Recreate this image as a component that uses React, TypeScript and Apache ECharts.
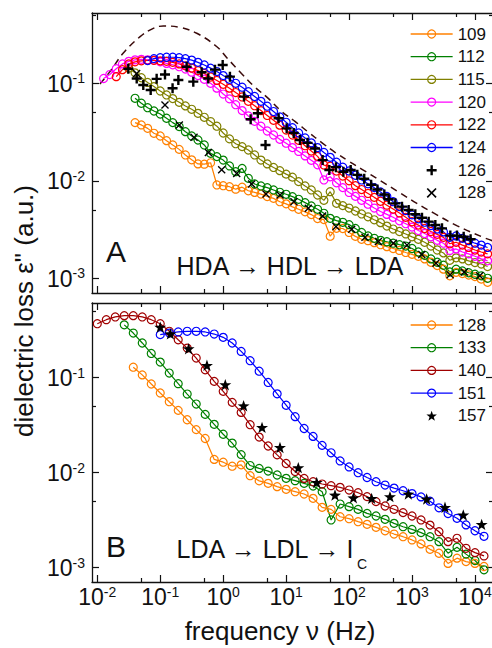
import React, { useEffect, useRef } from 'react';
import * as echarts from 'echarts';

// ---------- data (frequency in Hz, dielectric loss in a.u.) ----------
// panel A: common frequency grid, each series ends at the last frequency
const FREQ_A = [0.0126, 0.0158, 0.02, 0.0251, 0.0316, 0.0398, 0.0501, 0.0631, 0.0794,
  0.1, 0.126, 0.158, 0.2, 0.251, 0.316, 0.398, 0.501, 0.631, 0.794,
  1, 1.26, 1.58, 2, 2.51, 3.16, 3.98, 5.01, 6.31, 7.94,
  10, 12.6, 15.8, 20, 25.1, 31.6, 39.8, 50.1, 63.1, 79.4,
  100, 126, 158, 200, 251, 316, 398, 501, 631, 794,
  1000, 1259, 1585, 1995, 2512, 3162, 3981, 5012, 6310, 7943,
  10000, 12589, 15849];

const A109 = [0.0395, 0.0374, 0.0345, 0.0307, 0.0288, 0.0258, 0.0233, 0.021, 0.0184, 0.0164, 0.0149, 0.0148, 0.0153, 0.00906,
  0.0089, 0.0087, 0.0082, 0.0086, 0.0079, 0.0076, 0.0073, 0.0069, 0.0066, 0.0061,
  0.0058, 0.0054, 0.0051, 0.0048, 0.0045, 0.0041, 0.0040, 0.0027, 0.00326, 0.00324,
  0.00295, 0.00269, 0.00251, 0.00243, 0.00232, 0.00221, 0.00211, 0.00202, 0.00193, 0.00184,
  0.00176, 0.00168, 0.00158, 0.00146, 0.00135, 0.00124, 0.00106, 0.00115, 0.00112, 0.00108,
  0.00104, 0.00098, 0.00091];
const A112 = [0.0702, 0.0624, 0.0562, 0.052, 0.0484, 0.0438, 0.0395, 0.036, 0.0319, 0.0288, 0.0262, 0.0233, 0.0191, 0.0177,
  0.0163, 0.0142, 0.0124, 0.0134, 0.0106, 0.00927, 0.00885, 0.0085, 0.00805, 0.00762,
  0.00727, 0.00688, 0.00646, 0.00597, 0.00552, 0.0051, 0.00464, 0.00412, 0.0039, 0.00375,
  0.00355, 0.00324, 0.00295, 0.00272, 0.00257, 0.00245, 0.00237, 0.00229, 0.00221, 0.00214,
  0.00202, 0.00186, 0.00172, 0.00158, 0.00146, 0.00136, 0.00116, 0.00124, 0.00119, 0.00114,
  0.0011, 0.00106, 0.001];
const A115 = [0.143, 0.128, 0.114, 0.102, 0.0925, 0.0834, 0.0759, 0.0697, 0.0638, 0.0586, 0.0541, 0.0492, 0.0448, 0.0405, 0.0363,
  0.0309, 0.0269, 0.024, 0.0224, 0.0207, 0.0184, 0.0163, 0.0149, 0.0137, 0.0127,
  0.0117, 0.0109, 0.0098, 0.00885, 0.00805, 0.00715, 0.0063, 0.00773, 0.00587, 0.00556,
  0.00525, 0.0049, 0.00457, 0.00427, 0.00398, 0.00372, 0.00343, 0.0032, 0.00302, 0.00285,
  0.00266, 0.00251, 0.00234, 0.00214, 0.00195, 0.00182, 0.00153, 0.00162, 0.00158, 0.00151,
  0.00145, 0.0014, 0.00132];
const A120 = [0.112, 0.123, 0.141, 0.158, 0.168, 0.174, 0.176, 0.174, 0.172, 0.166, 0.16, 0.155, 0.148, 0.14, 0.13, 0.12, 0.11, 0.1, 0.0891,
  0.0776, 0.0692, 0.0603, 0.0525, 0.0462, 0.0407, 0.0363, 0.0324, 0.0295, 0.0266,
  0.0243, 0.0219, 0.02, 0.018, 0.0162, 0.0146, 0.0102, 0.011, 0.00955, 0.00851,
  0.00759, 0.00692, 0.00631, 0.00575, 0.00525, 0.00484, 0.00452, 0.00422, 0.00389, 0.00363,
  0.00335, 0.00309, 0.00288, 0.00266, 0.00245, 0.00229, 0.00193, 0.002, 0.00186, 0.00178,
  0.00168, 0.00158, 0.00151];
const A122 = [0.117, 0.138, 0.158, 0.166, 0.17, 0.172, 0.172, 0.17, 0.168, 0.164, 0.158, 0.151, 0.143, 0.135, 0.126, 0.116, 0.107,
  0.0977, 0.0891, 0.0804, 0.0724, 0.0653, 0.0589, 0.0525, 0.0468, 0.0417, 0.0372,
  0.0331, 0.0295, 0.026, 0.0229, 0.0202, 0.0178, 0.0145, 0.0141, 0.0126, 0.0112,
  0.01, 0.00891, 0.00813, 0.00741, 0.00676, 0.00617, 0.00562, 0.00513, 0.00468, 0.00422,
  0.0038, 0.00351, 0.00324, 0.00302, 0.00282, 0.00263, 0.00226, 0.00234, 0.00219, 0.00207,
  0.00195, 0.00186, 0.00178];
const A124 = [0.171, 0.179, 0.183, 0.185, 0.185, 0.183, 0.179, 0.173, 0.164, 0.154, 0.143, 0.132,
  0.12, 0.11, 0.1, 0.0912, 0.082, 0.0733, 0.0653, 0.0582, 0.0513, 0.0452,
  0.0398, 0.0351, 0.0309, 0.0275, 0.0245, 0.0219, 0.0195, 0.0174, 0.0155, 0.0138,
  0.0126, 0.0114, 0.0102, 0.00933, 0.00851, 0.00767, 0.00692, 0.0061, 0.00543, 0.00495,
  0.00447, 0.00407, 0.00376, 0.00347, 0.0032, 0.00299, 0.00263, 0.00272, 0.00257, 0.00243,
  0.00229, 0.00219, 0.00207];

const A126_FREQ = [0.0311, 0.0423, 0.0538, 0.0705, 0.0877, 0.119, 0.157, 0.194, 0.263, 0.335, 0.455, 0.579, 0.741, 0.982,
  1.28, 2.14, 2.73, 3.55, 4.7, 7.59, 10.2, 13.2, 16.6, 21.9, 28.8, 38, 48.5, 61.9, 81.1,
  106, 135, 174, 224, 282, 363, 427, 542, 692, 883, 1127, 1439, 1837, 2344, 2992, 4055, 5176, 6607, 8511];
const A126 = [0.141, 0.112, 0.0962, 0.0853, 0.111, 0.123, 0.0889, 0.108, 0.148, 0.104, 0.13, 0.112, 0.138, 0.154,
  0.117, 0.073, 0.0427, 0.0492, 0.0233, 0.0438, 0.0345, 0.0309, 0.0262, 0.0245, 0.0214, 0.0163, 0.0129, 0.0138, 0.0124,
  0.0129, 0.0115, 0.0105, 0.00912, 0.00813, 0.00724, 0.00646, 0.00587, 0.00543, 0.00501, 0.00453, 0.00418, 0.00381,
  0.00352, 0.00325, 0.00274, 0.00274, 0.00267, 0.00251];

const A128_FREQ = [0.0422, 0.119, 0.201, 0.344, 0.582, 0.946, 1.64, 2.83, 4.79, 8.0, 13.3, 22.5, 38.0, 61.9,
  110, 179, 292, 505, 832, 1429, 2399, 4027, 6761, 11885];
const A128 = [0.126, 0.06, 0.0374, 0.0279, 0.0195, 0.013, 0.0119, 0.00927, 0.00733, 0.00714, 0.00611, 0.00522, 0.00436, 0.00339,
  0.00318, 0.00263, 0.00238, 0.00229, 0.00219, 0.00175, 0.00143, 0.00109, 0.00116, 0.00106];

const FIT_FREQ = [0.011, 0.0158, 0.0257, 0.0479, 0.0776, 0.112, 0.204, 0.38, 0.794, 1.15, 1.95, 3.2, 5.2, 8.5,
  13.8, 22.4, 37.2, 60.3, 100, 158, 316, 631, 1175, 2188, 5129, 13490, 19950];
const FIT = [0.0984, 0.131, 0.203, 0.301, 0.366, 0.387, 0.375, 0.326, 0.237, 0.182, 0.126, 0.0912, 0.07, 0.0513,
  0.0407, 0.0316, 0.0245, 0.0195, 0.0158, 0.0132, 0.01, 0.00759, 0.00589, 0.00468, 0.00347, 0.00263, 0.0024];

// panel B
const FREQ_B = [0.01, 0.0139, 0.0193, 0.0268, 0.0373, 0.0518, 0.072,
  0.1, 0.139, 0.193, 0.268, 0.373, 0.518, 0.72,
  1, 1.39, 1.93, 2.68, 3.73, 5.18, 7.2,
  10, 13.9, 19.3, 26.8, 37.3, 51.8, 72,
  100, 139, 193, 268, 373, 518, 720,
  1000, 1390, 1930, 2680, 3730, 5180, 7200,
  10000, 13900];

const B128 = [0.129, 0.107, 0.0858,
  0.069, 0.0559, 0.0453, 0.0361, 0.0284, 0.0229, 0.0138,
  0.0129, 0.0117, 0.0121, 0.0093, 0.0082, 0.00773, 0.00713,
  0.00668, 0.00631, 0.00597, 0.00537, 0.00432, 0.00411, 0.00344,
  0.00328, 0.00305, 0.00286, 0.00266, 0.00245, 0.00226, 0.00212,
  0.00196, 0.00178, 0.00156, 0.00142, 0.00111, 0.00126, 0.00116,
  0.00111, 0.00103];
const B133 = [0.36, 0.295, 0.232, 0.18,
  0.146, 0.112, 0.0865, 0.0673, 0.0528, 0.0411, 0.0323,
  0.0254, 0.0205, 0.0155, 0.0119, 0.0111, 0.0104, 0.00946,
  0.00872, 0.00824, 0.00773, 0.00724, 0.00631, 0.00318, 0.00468,
  0.00439, 0.00411, 0.00373, 0.0035, 0.00323, 0.00293, 0.0027,
  0.00253, 0.00234, 0.00212, 0.00188, 0.00142, 0.00164, 0.00139,
  0.00119, 0.00095];
const B140 = [0.37, 0.408, 0.436, 0.45, 0.45, 0.436, 0.408,
  0.37, 0.308, 0.251, 0.205, 0.161, 0.121, 0.0915,
  0.0718, 0.055, 0.0431, 0.032, 0.0237, 0.0191, 0.0154,
  0.0125, 0.0103, 0.00871, 0.00804, 0.0076, 0.0073, 0.00701,
  0.00657, 0.00616, 0.0056, 0.00496, 0.00446, 0.00412, 0.0038,
  0.0035, 0.00318, 0.00281, 0.00239, 0.00188, 0.00204, 0.0016,
  0.00144, 0.00133];
const B151 = [0.284, 0.295, 0.303, 0.308, 0.308, 0.303, 0.288,
  0.266, 0.232, 0.189, 0.151, 0.117, 0.0891, 0.0676,
  0.0513, 0.0389, 0.0292, 0.0241, 0.0194, 0.0162, 0.0133,
  0.0115, 0.01, 0.0089, 0.00804, 0.00741, 0.00689, 0.00646,
  0.00603, 0.00556, 0.00501, 0.00427, 0.00372, 0.00331, 0.00282,
  0.00245, 0.00214];
const B157_FREQ = [0.1, 0.145, 0.282, 0.552, 1.08, 2.11, 4.14, 7.98, 15.6, 30.6, 59.7, 117, 228, 446, 873, 1706, 3337, 6518, 12760];
const B157 = [0.341, 0.29, 0.202, 0.135, 0.0844, 0.0507, 0.030, 0.01845, 0.0113, 0.0079, 0.00582, 0.00545, 0.00537,
  0.0056, 0.00597, 0.00528, 0.00432, 0.00359, 0.00286];

const X_TICKS = [-2, -1, 0, 1, 2, 3, 4];          // log10 of 10^-2 .. 10^4
const Y_TICKS = [-3, -2, -1];                      // log10 of 10^-3 .. 10^-1

// ---------- helpers ----------
const FONT = '"Liberation Sans", Arial, Helvetica, sans-serif';
const INK = '#111111';
const LOG5 = Math.log10(5);

const tail = (freq: number[], vals: number[]) => {
  const s = freq.length - vals.length;
  return vals.map((v, i) => [Math.log10(freq[s + i]), Math.log10(v)]);
};
const pairs = (freq: number[], vals: number[]) => vals.map((v, i) => [Math.log10(freq[i]), Math.log10(v)]);

const PLUS = 'path://M3.8,0H6.2V3.8H10V6.2H6.2V10H3.8V6.2H0V3.8H3.8Z';
const CROSS = 'path://M0,1.2L1.2,0L5,3.8L8.8,0L10,1.2L6.2,5L10,8.8L8.8,10L5,6.2L1.2,10L0,8.8L3.8,5Z';
const STAR = 'path://M5,0L6.176,3.382L9.755,3.455L6.902,5.618L7.939,9.045L5,7L2.061,9.045L3.098,5.618L0.245,3.455L3.824,3.382Z';

const rich = {
  b: { fontSize: 23, lineHeight: 24, fontFamily: FONT, color: INK, verticalAlign: 'bottom' },
  s: { fontSize: 14, lineHeight: 14, fontFamily: FONT, color: INK, verticalAlign: 'top' },
};
const powLabel = (v: number) => `{b|10}{s|${Math.round(v)}}`;

const X_RANGE = { min: -2.084, max: 4.286 };
const Y_RANGE_A = { min: -3.151, max: -0.279 };
const Y_RANGE_B = { min: -3.1505, max: -0.2137 };

function makeX(grid: number, labels: boolean) {
  const base = (pos: string, major: boolean) => ({
    type: 'value', gridIndex: grid, position: pos, ...X_RANGE,
    axisLine: { show: major, onZero: false, lineStyle: { color: INK, width: 1.3 } },
    axisTick: {
      show: true, inside: true, length: major ? 7 : 4,
      customValues: major ? X_TICKS : X_TICKS.slice(0, 6).map((v) => v + LOG5),
      lineStyle: { color: INK, width: 1.2 },
    },
    axisLabel: labels && major && pos === 'bottom'
      ? { show: true, customValues: X_TICKS, formatter: powLabel, rich, margin: 2.5 }
      : { show: false },
    splitLine: { show: false },
  });
  return [base('bottom', true), base('bottom', false), base('top', true), base('top', false)];
}
function makeY(grid: number, range: { min: number; max: number }) {
  const base = (pos: string, major: boolean) => ({
    type: 'value', gridIndex: grid, position: pos, ...range,
    axisLine: { show: major, onZero: false, lineStyle: { color: INK, width: 1.3 } },
    axisTick: {
      show: true, inside: true, length: major ? 7 : 4,
      customValues: major ? Y_TICKS : Y_TICKS.map((v) => v + LOG5),
      lineStyle: { color: INK, width: 1.2 },
    },
    axisLabel: major && pos === 'left'
      ? { show: true, customValues: Y_TICKS, formatter: powLabel, rich, margin: 7 }
      : { show: false },
    splitLine: { show: false },
  });
  return [base('left', true), base('left', false), base('right', true), base('right', false)];
}

function circleSeries(name: string, color: string, data: number[][], axis: number) {
  return {
    type: 'line', name, xAxisIndex: axis, yAxisIndex: axis, data,
    symbol: 'circle', symbolSize: 8,
    itemStyle: { color: 'rgba(0,0,0,0)', borderColor: color, borderWidth: 1.2 },
    lineStyle: { color, width: 1.2 },
    emphasis: { disabled: true },
    animation: false,
  };
}
function markSeries(name: string, symbol: string, size: number, data: number[][], axis: number) {
  return {
    type: 'scatter', name, xAxisIndex: axis, yAxisIndex: axis, data,
    symbol, symbolSize: size, symbolKeepAspect: true,
    itemStyle: { color: '#000', opacity: 1 },
    emphasis: { disabled: true },
    animation: false, z: 5,
  };
}
const lineLegend = (name: string, color: string) => ({
  name,
  itemStyle: { color: 'rgba(0,0,0,0)', borderColor: color, borderWidth: 1.2 },
  lineStyle: { color, width: 1.3 },
});
const markLegend = (name: string) => ({ name, itemStyle: { color: '#000', borderWidth: 0, opacity: 1 } });

const C = {
  orange: '#FF8000', green: '#008000', olive: '#808000', magenta: '#FF00FF',
  red: '#FF0000', blue: '#0000FF', wine: '#A00000', fit: '#3a0a0a',
};

export default function App() {
  const ref = useRef<HTMLDivElement>(null);
  useEffect(() => {
    if (!ref.current) return;
    const chart = echarts.init(ref.current, null, { renderer: 'svg' });
    const legendCommon = {
      orient: 'vertical', left: 405, itemWidth: 42, itemHeight: 10, itemGap: 5.7,
      selectedMode: false, formatter: (n: string) => n.slice(1),
      textStyle: { fontSize: 17, lineHeight: 17, color: INK, fontFamily: FONT },
    };
    const option: any = {
      animation: false,
      backgroundColor: '#ffffff',
      grid: [
        { left: 92, top: 13, width: 401, height: 280, outerBoundsMode: 'none' },
        { left: 92, top: 303, width: 401, height: 279, outerBoundsMode: 'none' },
      ],
      xAxis: [...makeX(0, false), ...makeX(1, true)],
      yAxis: [...makeY(0, Y_RANGE_A), ...makeY(1, Y_RANGE_B)],
      legend: [
        {
          ...legendCommon, top: 20.5,
          data: [lineLegend('A109', C.orange), lineLegend('A112', C.green), lineLegend('A115', C.olive),
            lineLegend('A120', C.magenta), lineLegend('A122', C.red), lineLegend('A124', C.blue),
            markLegend('A126'), markLegend('A128')],
        },
        {
          ...legendCommon, top: 311.5,
          data: [lineLegend('B128', C.orange), lineLegend('B133', C.green), lineLegend('B140', C.wine),
            lineLegend('B151', C.blue), markLegend('B157')],
        },
      ],
      series: [
        {
          type: 'line', name: 'Afit', xAxisIndex: 0, yAxisIndex: 0, data: pairs(FIT_FREQ, FIT),
          showSymbol: false, smooth: 0.4,
          lineStyle: { color: C.fit, width: 1.5, type: [7, 5] }, emphasis: { disabled: true },
        },
        circleSeries('A109', C.orange, tail(FREQ_A, A109), 0),
        circleSeries('A112', C.green, tail(FREQ_A, A112), 0),
        circleSeries('A115', C.olive, tail(FREQ_A, A115), 0),
        circleSeries('A120', C.magenta, tail(FREQ_A, A120), 0),
        circleSeries('A122', C.red, tail(FREQ_A, A122), 0),
        circleSeries('A124', C.blue, tail(FREQ_A, A124), 0),
        markSeries('A126', PLUS, 10, pairs(A126_FREQ, A126), 0),
        markSeries('A128', CROSS, 8, pairs(A128_FREQ, A128), 0),
        circleSeries('B128', C.orange, tail(FREQ_B, B128), 4),
        circleSeries('B133', C.green, tail(FREQ_B, B133), 4),
        circleSeries('B140', C.wine, tail(FREQ_B, B140), 4),
        circleSeries('B151', C.blue, tail(FREQ_B, B151), 4),
        markSeries('B157', STAR, 12, pairs(B157_FREQ, B157), 4),
      ],
      graphic: [
        { type: 'text', x: 106, y: 251, style: { text: 'A', font: `30px ${FONT}`, fill: INK, align: 'left', verticalAlign: 'middle' } },
        { type: 'text', x: 290, y: 266, style: { text: 'HDA \u2192 HDL \u2192 LDA', font: `25px ${FONT}`, fill: INK, align: 'center', verticalAlign: 'middle' } },
        { type: 'text', x: 106, y: 546, style: { text: 'B', font: `30px ${FONT}`, fill: INK, align: 'left', verticalAlign: 'middle' } },
        { type: 'text', x: 176.5, y: 549.3, style: { text: 'LDA \u2192 LDL \u2192 I', font: `25px ${FONT}`, fill: INK, align: 'left', verticalAlign: 'middle' } },
        { type: 'text', x: 357, y: 563.5, style: { text: 'C', font: `14px ${FONT}`, fill: INK, align: 'left', verticalAlign: 'middle' } },
        { type: 'text', x: 280, y: 631, style: { text: 'frequency \u03bd (Hz)', font: `26px ${FONT}`, fill: INK, align: 'center', verticalAlign: 'middle' } },
        { type: 'text', x: 24, y: 311, rotation: Math.PI / 2, style: { text: 'dielectric loss \u03b5" (a.u.)', font: `26px ${FONT}`, fill: INK, align: 'center', verticalAlign: 'middle' } },
      ],
    };
    chart.setOption(option);
    return () => chart.dispose();
  }, []);
  return (
    <div style={{ position: 'absolute', left: 0, top: 0, width: 492, height: 648, overflow: 'hidden', background: '#fff' }}>
      <div ref={ref} style={{ width: 500, height: 648 }} />
    </div>
  );
}
